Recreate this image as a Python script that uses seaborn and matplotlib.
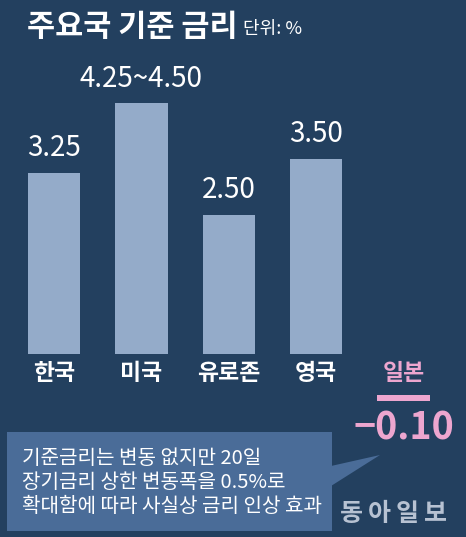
import matplotlib
matplotlib.use("Agg")
import matplotlib.pyplot as plt
import seaborn as sns
from matplotlib.patches import Rectangle, Polygon

# --- data ---
all_countries = ["한국", "미국", "유로존", "영국", "일본"]
main_countries = ["한국", "미국", "유로존", "영국"]
main_rates = [3.25, 4.50, 2.50, 3.50]
main_labels = ["3.25", "4.25~4.50", "2.50", "3.50"]
japan_country = ["일본"]
japan_rate = [-0.10]
japan_label = ["−0.10"]

title = "주요국 기준 금리"
unit = "단위: %"
note_lines = ["기준금리는 변동 없지만 20일",
              "장기금리 상한 변동폭을 0.5%로",
              "확대함에 따라 사실상 금리 인상 효과"]
source = "동아일보"

# --- style ---
BG = "#23405f"
BAR = "#94abc9"
BOX = "#4a6c98"
PINK = "#eda6cf"
WHITE = "#ffffff"
KR = ["Noto Sans CJK KR", "DejaVu Sans"]

sns.set_style("white")
plt.rcParams["font.family"] = KR

W, H = 466, 537
fig = plt.figure(figsize=(W / 100, H / 100), dpi=100, facecolor=BG)


def fx(px):
    return px / W


def fy(py):
    return 1 - py / H


# main axes: baseline at y=354px, 55.7 px per unit
unit_px = 55.7
x_left, x_right = 10.3, 447.2
ax = fig.add_axes([fx(x_left), (H - 354) / H, (x_right - x_left) / W, 5 * unit_px / H])
ax.set_facecolor("none")
sns.barplot(x=main_countries, y=main_rates, order=all_countries, color=BAR,
            saturation=1, width=0.6, linewidth=0, edgecolor="none", ax=ax)
ax.set_xlim(-0.5, 4.5)
ax.set_ylim(0, 5)
ax.bar_label(ax.containers[0], labels=main_labels, padding=7, color=WHITE,
             fontsize=20)
ax.set_yticks([])
ax.set_ylabel("")
ax.tick_params(axis="x", length=0, pad=6)
for lbl in ax.get_xticklabels():
    lbl.set_fontsize(16.5)
    lbl.set_fontweight("bold")
    lbl.set_color(PINK if lbl.get_text() == "일본" else WHITE)
sns.despine(ax=ax, left=True, bottom=True)

# Japan bar on its own lower baseline (y=395px), same scale
ax2 = fig.add_axes([fx(x_left), (H - 395 - 0.5 * unit_px) / H,
                    (x_right - x_left) / W, 0.5 * unit_px / H])
ax2.set_facecolor("none")
sns.barplot(x=japan_country, y=japan_rate, order=all_countries, color=PINK,
            saturation=1, width=0.6, linewidth=0, edgecolor="none", ax=ax2)
ax2.set_xlim(-0.5, 4.5)
ax2.set_ylim(-0.5, 0)
ax2.bar_label(ax2.containers[0], labels=japan_label, padding=6, color=PINK,
              fontsize=27, fontweight="bold")
ax2.set_xticks([])
ax2.set_yticks([])
ax2.set_xlabel("")
ax2.set_ylabel("")
sns.despine(ax=ax2, left=True, bottom=True)

# title
fig.text(fx(27), fy(27), title, color=WHITE, fontsize=22, fontweight="bold",
         va="center", ha="left")
fig.text(fx(243), fy(29), unit, color=WHITE, fontsize=13, va="center", ha="left")

# note box with pointer
fig.patches.append(Rectangle((fx(7), fy(531)), fx(332) - fx(7), fy(432) - fy(531),
                             transform=fig.transFigure, facecolor=BOX,
                             edgecolor="none", zorder=1))
fig.patches.append(Polygon([(fx(331), fy(466)), (fx(380), fy(455)), (fx(331), fy(486))],
                           closed=True, transform=fig.transFigure,
                           facecolor=BOX, edgecolor="none", zorder=1))
for i, line in enumerate(note_lines):
    fig.text(fx(22), fy(458 + 24 * i), line, color=WHITE, fontsize=14.5,
             va="center", ha="left", zorder=3)

# source logo, letter-spaced
for i, ch in enumerate(source):
    fig.text(fx(351 + 28 * i), fy(514), ch, color="#b7c2d2", fontsize=18,
             fontweight="bold", va="center", ha="center")

fig.savefig("out.png", dpi=100, facecolor=BG)
